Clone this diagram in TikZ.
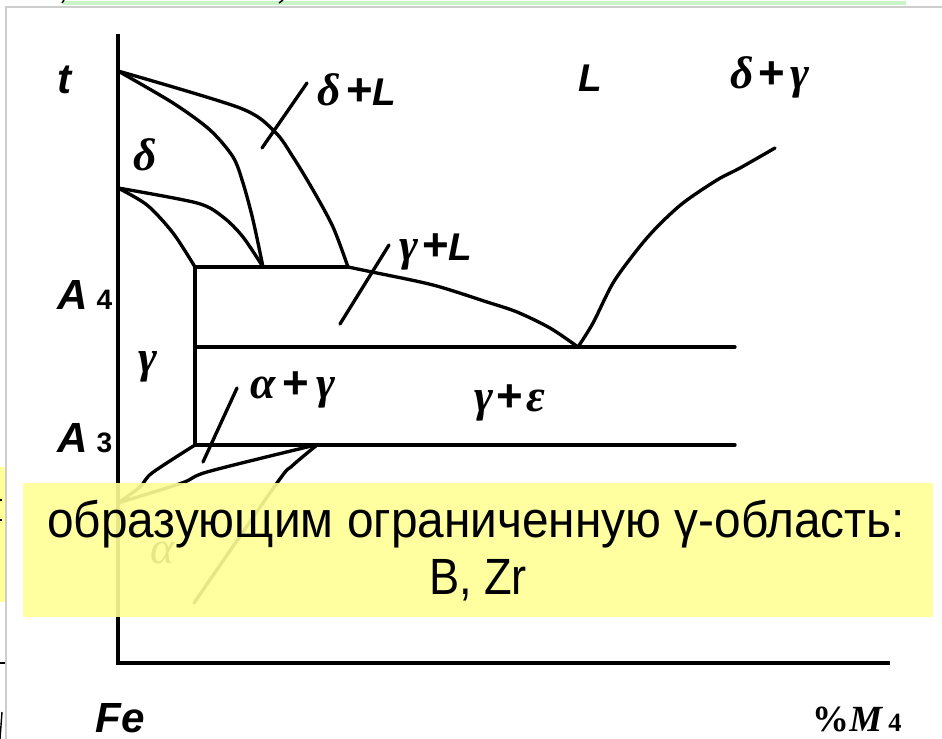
\documentclass[tikz,border=0pt]{standalone}
\usepackage{fontspec}
\setmainfont{Liberation Sans}
\newfontfamily\sansfont{Liberation Sans}
\newfontfamily\grkfont{Liberation Serif}
\usepackage{graphicx}
\usepackage{xcolor}
\definecolor{noteyellow}{RGB}{255,255,150}
\definecolor{framegray}{RGB}{205,205,205}
\definecolor{tabgreen}{RGB}{200,245,200}
\usetikzlibrary{positioning}
\newcommand{\pl}{{\sansfont\bfseries\upshape +}}
\newcommand{\lL}{{\sansfont\bfseries\itshape\fontsize{22}{22}\selectfont L}}
\tikzset{
  curve/.style={line width=1.9pt,line join=round,line cap=round},
  axis/.style={line width=2.5pt},
  lbl/.style={inner sep=0pt,font=\fontsize{24}{24}\selectfont\sansfont\bfseries\itshape},
  phase/.style={inner sep=0pt,font=\fontsize{26}{26}\selectfont\grkfont\bfseries\itshape},
  note/.style={fill=noteyellow,opacity=0.9},
  notetext/.style={inner sep=0pt,anchor=base,font=\fontsize{29}{29}\selectfont\sansfont}
}

\begin{document}
\begin{tikzpicture}[x=0.02cm,y=-0.02cm]
  \useasboundingbox (0,0) rectangle (942,739);

  % screen edges
  \fill[noteyellow] (0,467) rectangle (5,602);
  \draw[framegray,line width=0.6pt] (6,739) -- (6,7) -- (942,7);
  \draw[tabgreen,line width=2pt] (63,3) -- (906,3);
  \draw[line width=0.8pt] (62,3) -- (64,0);
  \draw[line width=0.8pt] (279,3) -- (283,0);
  \draw[line width=0.8pt] (0,500) -- (2,500);
  \draw[line width=0.8pt] (0,520) -- (2,520);
  \draw[line width=1.5pt] (0,663) -- (5,663);
  \draw[line width=0.8pt] (0,739) -- (2,712);

  % axes
  \coordinate (o) at (118,663);
  \coordinate (ytop) at (118,34);
  \coordinate (xend) at (890,663);
  \draw[axis] (ytop) -- (o) -- (xend);

  % key points
  \coordinate (tm) at (118,71);
  \coordinate (a4) at (118,188);
  \coordinate (a3) at (118,503);
  \coordinate (c1) at (195,267);
  \coordinate (c2) at (263,267);
  \coordinate (c3) at (348,267);
  \coordinate (eu) at (578,347);
  \coordinate (m1) at (195,347);
  \coordinate (m2) at (735,347);
  \coordinate (b1) at (195,445);
  \coordinate (b2) at (735,445);
  \coordinate (b3) at (317,445);

  % delta field
  \draw[curve] plot[smooth] coordinates {(tm) (173,103) (210,130) (233,157) (243,183) (253,220) (c2)};
  \draw[curve] plot[smooth] coordinates {(tm) (240,108) (275,132) (293,157) (313,190) (333,227) (c3)};
  \draw[curve] plot[smooth] coordinates {(a4) (197,203) (223,217) (243,237) (c2)};
  \draw[curve] plot[smooth] coordinates {(a4) (147,205) (173,233) (c1)};

  % gamma box
  \draw[curve] (c3) -- (c1) -- (b1) -- (b2);
  \draw[curve] (m1) -- (m2);

  % liquidus
  \draw[curve] plot[smooth] coordinates {(c3) (372,272) (433,285) (487,302) (517,312) (550,328) (eu)};
  \draw[curve] plot[smooth] coordinates {(eu) (593,323) (613,283) (637,250) (657,227) (683,203) (717,180) (740,168) (775,148)};

  % alpha loop
  \draw[curve] plot[smooth] coordinates {(b1) (152,473) (140,487) (a3)};
  \draw[curve] plot[smooth] coordinates {(a3) (182,483) (207,472) (303,448) (b3)};
  \draw[curve] plot[smooth] coordinates {(b3) (292,466) (277,483) (194,603)};

  % leader lines
  \draw[curve] (262,148) -- (307,83);
  \draw[curve] (340,324) -- (389,245);
  \draw[curve] (237,388) -- (203,462);

  % axis labels
  \node[lbl] (t) at (65,80) {t};
  \node[lbl,anchor=base west] (A4) at (57,310) {A\hspace{5pt}{\fontsize{16}{16}\selectfont\upshape 4}};
  \node[lbl,anchor=base west] (A3) at (57,452) {A\hspace{5pt}{\fontsize{16}{16}\selectfont\upshape 3}};
  \node[lbl,anchor=base] (fe) at (120,732) {Fe};
  \node[inner sep=0pt,anchor=base west,font=\fontsize{21}{21}\selectfont\grkfont\bfseries] (pm) at (812,731) {\%\textit{M}\hspace{3pt}{\fontsize{15}{15}\selectfont 4}};

  % phase labels
  \node[phase] (d) at (145,155) {δ};
  \node[phase] (dL) at (357,90) {δ\hspace{3pt}\pl\lL};
  \node[lbl,font=\fontsize{22}{22}\selectfont\sansfont\bfseries\itshape] (L) at (590,78) {L};
  \node[phase] (dg) at (770,77) {δ\hspace{3pt}\pl\hspace{3pt}γ};
  \node[phase] (g) at (148,367) {γ};
  \node[phase] (gL) at (436,252) {γ\hspace{2pt}\pl\lL};
  \node[phase] (ag) at (293,390) {α\hspace{4pt}\pl\hspace{4pt}γ};
  \node[phase] (ge) at (510,403) {γ\hspace{2pt}\pl\hspace{2pt}ε};
  \node[phase,font=\fontsize{26}{26}\selectfont\grkfont\itshape] (a) at (162,553) {α};

  % note on top
  \fill[note] (23,483) rectangle (933,617);
  \node[notetext] (n1) at (476,537) {\resizebox{17.16cm}{\height}{образующим ограниченную γ-область:}};
  \node[notetext] (n2) at (478,594) {\resizebox{1.96cm}{\height}{B, Zr}};
\end{tikzpicture}
\end{document}
